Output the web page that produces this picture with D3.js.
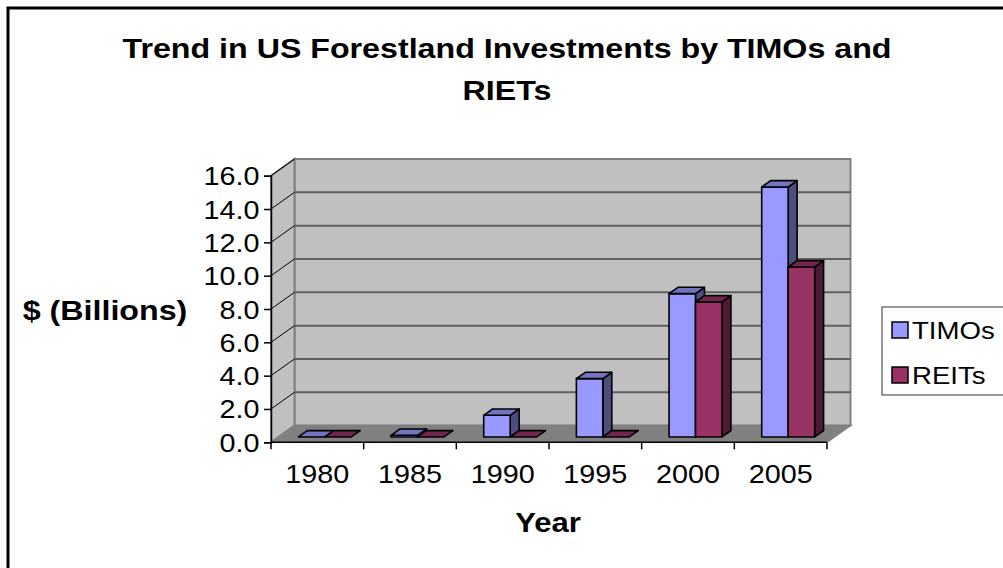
<!DOCTYPE html>
<html lang="en">
<head>
    <meta charset="UTF-8">
    <title>Trend in US Forestland Investments</title>
    <script src="https://d3js.org/d3.v7.min.js"></script>
    <style>
        body { margin: 0; background: #fff; }
        svg { display: block; font-family: "Liberation Sans", Arial, sans-serif; }
        .tick text { font-size: 25px; fill: #000; }
    </style>
</head>
<body>
    <svg id="chart" width="1003" height="568"></svg>
    <script>
        // Data
        const years = ["1980", "1985", "1990", "1995", "2000", "2005"];
        const timos = [0.0, 0.1, 1.3, 3.5, 8.6, 15.0];
        const reits = [0.0, 0.0, 0.0, 0.0, 8.1, 10.2];
        const seriesNames = ["TIMOs", "REITs"];
        const yTicks = [0, 2, 4, 6, 8, 10, 12, 14, 16];

        const colors = {
            TIMOs: { front: "#9999ff", top: "#7373bf", side: "#4d4d80" },
            REITs: { front: "#993366", top: "#73264d", side: "#4d1a33" }
        };
        const sx = 1.15; // text in the original is a bit wide

        const svg = d3.select("#chart");

        // outer frame
        svg.append("rect")
            .attr("x", 8).attr("y", 8)
            .attr("width", 1010).attr("height", 580)
            .attr("fill", "none").attr("stroke", "#000").attr("stroke-width", 3);

        // front plane scales + depth offset of the 3d box
        const x = d3.scaleBand().domain(years).range([271, 827]);
        const y = d3.scaleLinear().domain([0, 16]).range([442.3, 175.7]);
        const dx = 23.5, dy = -16.7;
        const x0 = x.range()[0], x1 = x.range()[1];
        const yb = y(0), yt = y(16);

        // back wall
        svg.append("rect")
            .attr("x", x0 + dx).attr("y", yt + dy)
            .attr("width", x1 - x0).attr("height", yb - yt)
            .attr("fill", "#c0c0c0").attr("stroke", "#808080").attr("stroke-width", 2);

        // side wall
        svg.append("polygon")
            .attr("points", [[x0, yt], [x0 + dx, yt + dy], [x0 + dx, yb + dy], [x0, yb]].join(" "))
            .attr("fill", "#c0c0c0").attr("stroke", "#808080").attr("stroke-width", 2);

        // gridlines on back wall + diagonals on side wall
        yTicks.slice(1, -1).forEach(t => {
            svg.append("line")
                .attr("x1", x0 + dx).attr("x2", x1 + dx)
                .attr("y1", y(t) + dy).attr("y2", y(t) + dy)
                .attr("stroke", "#606060").attr("stroke-width", 2);
        });
        yTicks.slice(1).forEach(t => {
            svg.append("line")
                .attr("x1", x0).attr("x2", x0 + dx)
                .attr("y1", y(t)).attr("y2", y(t) + dy)
                .attr("stroke", "#000").attr("stroke-width", 1);
        });

        // floor
        svg.append("polygon")
            .attr("points", [[x0, yb], [x0 + dx, yb + dy], [x1 + dx, yb + dy], [x1, yb]].join(" "))
            .attr("fill", "#808080").attr("stroke", "#808080").attr("stroke-width", 1.5);

        // y axis
        const yAxis = svg.append("g")
            .attr("transform", `translate(${x0},0)`)
            .call(d3.axisLeft(y).tickValues(yTicks).tickFormat(d3.format(".1f")).tickSize(7).tickPadding(3));
        yAxis.select(".domain").attr("stroke", "#000").attr("stroke-width", 1.5);
        yAxis.selectAll(".tick line").attr("stroke", "#000").attr("stroke-width", 1.5);
        yAxis.selectAll(".tick text")
            .attr("dy", "0.36em")
            .attr("transform", `scale(${sx},1)`);

        // x axis: labels at band centres, ticks on band edges
        const xAxis = svg.append("g")
            .attr("transform", `translate(0,${yb})`)
            .call(d3.axisBottom(x).tickSize(0).tickPadding(23));
        xAxis.select(".domain").remove();
        xAxis.selectAll(".tick text")
            .attr("dy", "0.71em")
            .attr("transform", `scale(${sx},1)`)
            .attr("x", 0);
        xAxis.append("line")
            .attr("x1", x0).attr("x2", x1).attr("y1", 0).attr("y2", 0)
            .attr("stroke", "#000").attr("stroke-width", 1.5);
        xAxis.selectAll(".edge")
            .data(years.concat(["end"]))
            .enter().append("line")
            .attr("class", "edge")
            .attr("x1", (d, i) => x0 + i * x.step())
            .attr("x2", (d, i) => x0 + i * x.step())
            .attr("y1", 0).attr("y2", 7)
            .attr("stroke", "#000").attr("stroke-width", 1.5);

        // 3d columns
        const bw = x.bandwidth() / 3.5;
        const f0 = 0.32, fd = 0.38;
        const bdx = fd * dx, bdy = fd * dy;
        const bars = [];
        years.forEach((yr, i) => {
            [timos[i], reits[i]].forEach((v, s) => {
                const xl = x(yr) + (x.bandwidth() - 2 * bw) / 2 + s * bw + f0 * dx;
                bars.push({
                    series: seriesNames[s], value: v,
                    xl: xl, xr: xl + bw,
                    yT: y(v) + f0 * dy, yB: y(0) + f0 * dy
                });
            });
        });

        const bar = svg.selectAll(".bar").data(bars).enter().append("g").attr("class", "bar");
        bar.filter(d => d.yB - d.yT > 0.5).append("polygon")
            .attr("points", d => [[d.xr, d.yT], [d.xr + bdx, d.yT + bdy], [d.xr + bdx, d.yB + bdy], [d.xr, d.yB]].join(" "))
            .attr("fill", d => colors[d.series].side);
        bar.filter(d => d.yB - d.yT > 0.5).append("rect")
            .attr("x", d => d.xl).attr("y", d => d.yT)
            .attr("width", d => d.xr - d.xl).attr("height", d => d.yB - d.yT)
            .attr("fill", d => colors[d.series].front);
        bar.append("polygon")
            .attr("points", d => [[d.xl, d.yT], [d.xl + bdx, d.yT + bdy], [d.xr + bdx, d.yT + bdy], [d.xr, d.yT]].join(" "))
            .attr("fill", d => colors[d.series].top);
        bar.selectAll("polygon, rect")
            .attr("stroke", "#000").attr("stroke-width", 1.6).attr("stroke-linejoin", "round");

        // titles
        const title = svg.append("text")
            .attr("text-anchor", "middle")
            .attr("font-weight", "bold").attr("font-size", 28)
            .attr("transform", `translate(507,0) scale(${sx},1)`);
        title.append("tspan").attr("x", 0).attr("y", 58).text("Trend in US Forestland Investments by TIMOs and");
        title.append("tspan").attr("x", 0).attr("y", 100).text("RIETs");

        svg.append("text")
            .attr("text-anchor", "middle")
            .attr("font-weight", "bold").attr("font-size", 28)
            .attr("transform", `translate(105,320) scale(${sx},1)`)
            .text("$ (Billions)");

        svg.append("text")
            .attr("text-anchor", "middle")
            .attr("font-weight", "bold").attr("font-size", 27)
            .attr("transform", `translate(548,532) scale(${sx},1)`)
            .text("Year");

        // legend
        const legend = svg.append("g").attr("transform", "translate(882,307)");
        legend.append("rect")
            .attr("width", 140).attr("height", 88)
            .attr("fill", "#fff").attr("stroke", "#333").attr("stroke-width", 1);
        seriesNames.forEach((name, i) => {
            legend.append("rect")
                .attr("x", 10).attr("y", 15 + i * 45)
                .attr("width", 16).attr("height", 16)
                .attr("fill", colors[name].front)
                .attr("stroke", "#000").attr("stroke-width", 1.5);
            legend.append("text")
                .attr("font-size", 24)
                .attr("transform", `translate(30,${32 + i * 45}) scale(${sx},1)`)
                .text(name);
        });
    </script>
</body>
</html>
